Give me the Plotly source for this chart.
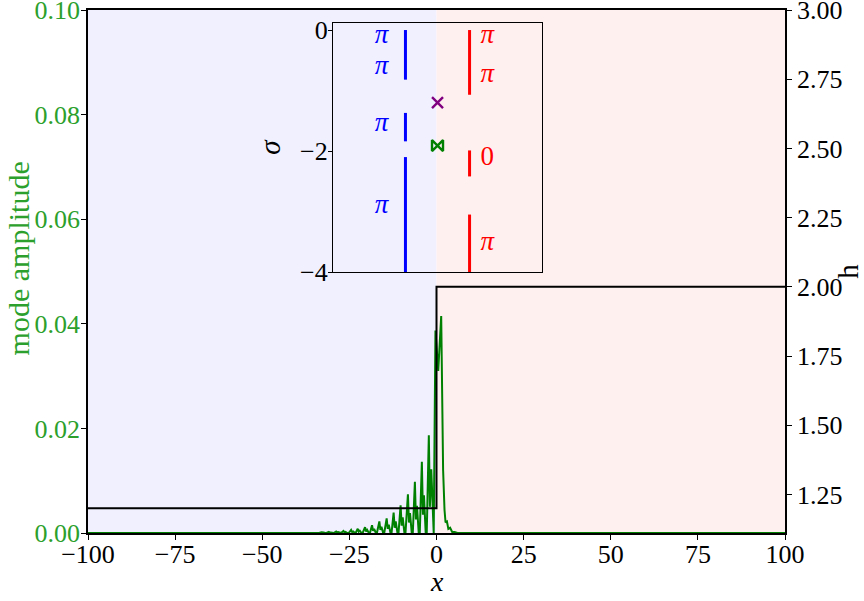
import plotly.graph_objects as go

# ---------------- data ----------------
# mode amplitude (green)
amp_x = [-100.0, -38.5,
         -37.7, -37.0, -36.7, -36.4, -35.9,
         -35.7, -35.0, -34.7, -34.4, -33.9,
         -33.7, -33.0, -32.7, -32.4, -31.9,
         -31.6, -30.9, -30.6, -30.3, -29.8,
         -29.5, -28.8, -28.5, -28.2, -27.7,
         -27.4, -26.7, -26.4, -26.1, -25.6,
         -25.2, -24.5, -24.2, -23.9, -23.4,
         -23.2, -22.6, -22.3, -22.0, -21.5,
         -21.2, -20.5, -20.2, -19.9, -19.4,
         -19.1, -18.5, -18.2, -17.9, -17.4,
         -17.1, -16.4, -16.1, -15.8, -15.3,
         -15.0, -14.3, -14.0, -13.7, -13.2,
         -12.9, -12.3, -12.0, -11.7, -11.2,
         -10.9, -10.3, -10.0, -9.7, -9.2,
         -8.9, -8.2, -7.9, -7.6, -7.1,
         -6.8, -6.2, -5.9, -5.6, -5.1,
         -4.8, -4.2, -3.9, -3.6, -3.1,
         -2.8, -2.2, -1.9, -1.5, -1.0,
         -0.8, -0.3, 0.5, 1.35, 1.9, 2.3, 2.6, 3.0, 3.4, 3.9, 4.5, 5.2, 6.0, 100.0]
amp_y = [0.0, 0.0,
         0.0, 0.0001, 0.00003, 0.00005, 0.0,
         0.0, 0.00012, 0.00004, 0.00006, 0.0,
         0.0, 0.00015, 0.00005, 0.0001, 0.0,
         0.0, 0.0002, 0.00006, 0.0001, 0.0,
         0.0, 0.0003, 0.0001, 0.00017, 0.0,
         0.0, 0.0004, 0.00012, 0.00022, 0.0,
         0.0, 0.0006, 0.00018, 0.0003, 0.0,
         0.0, 0.0008, 0.00025, 0.00045, 0.0,
         0.0, 0.0011, 0.0003, 0.0006, 0.0,
         0.0, 0.0015, 0.0004, 0.0008, 0.0,
         0.0, 0.0022, 0.0006, 0.0012, 0.0,
         0.0, 0.0028, 0.0008, 0.0016, 0.0,
         0.0, 0.0039, 0.0010, 0.0022, 0.0,
         0.0, 0.0053, 0.0014, 0.0030, 0.0,
         0.0, 0.0074, 0.0020, 0.0038, 0.0,
         0.0, 0.0098, 0.0026, 0.0052, 0.0,
         0.0, 0.0136, 0.0035, 0.0072, 0.0,
         0.0, 0.0187, 0.0050, 0.0122, 0.0,
         0.0, 0.0387, 0.0310, 0.0415, 0.0120, 0.0044, 0.0020, 0.0022, 0.0008, 0.0010, 0.0002, 0.0002, 0.0, 0.0]

# depth profile h (black step)
h_x = [-100.0, 0.0, 100.0]
h_y = [1.2, 2.0, 2.0]

# inset: spectrum bands (sigma ranges)
blue_x = -9.2
blue_bands = [(0.0, -0.82), (-1.37, -1.84), (-2.1, -4.0)]
red_x = 9.2
red_bands = [(0.0, -1.07), (-1.99, -2.42), (-3.05, -4.0)]
blue_label_x = -16.1
blue_label_y = [-0.10, -0.61, -1.56, -2.91]
blue_labels = ["π", "π", "π", "π"]
red_label_x = 14.3
red_label_y = [-0.10, -0.75, -2.12, -3.52]
red_labels = ["π", "π", "0", "π"]
cross_pt = (0.0, -1.20)
bowtie_pt = (0.0, -1.91)

x_ticks = [-100, -75, -50, -25, 0, 25, 50, 75, 100]
amp_ticks = [0.0, 0.02, 0.04, 0.06, 0.08, 0.10]
h_ticks = [1.25, 1.5, 1.75, 2.0, 2.25, 2.5, 2.75, 3.0]
sigma_ticks = [0, -2, -4]

FONT = "Liberation Serif"
GREEN_T = "#2ca02c"
TICK = dict(family=FONT, size=26, color="black")


def fmt(v, nd=0):
    s = f"{abs(v):.{nd}f}"
    return ("\u2212" + s) if v < 0 else s


fig = go.Figure()

fig.add_trace(go.Scatter(x=amp_x, y=amp_y, mode="lines",
                         line=dict(color="#008000", width=2),
                         xaxis="x", yaxis="y", showlegend=False))
fig.add_trace(go.Scatter(x=h_x, y=h_y, mode="lines", line_shape="hv",
                         line=dict(color="black", width=2),
                         xaxis="x", yaxis="y2", showlegend=False))

for (a, b) in blue_bands:
    fig.add_trace(go.Scatter(x=[blue_x, blue_x], y=[a, b], mode="lines",
                             line=dict(color="blue", width=3),
                             xaxis="x3", yaxis="y3", showlegend=False))
for (a, b) in red_bands:
    fig.add_trace(go.Scatter(x=[red_x, red_x], y=[a, b], mode="lines",
                             line=dict(color="red", width=3),
                             xaxis="x3", yaxis="y3", showlegend=False))

fig.add_trace(go.Scatter(x=[blue_label_x] * len(blue_label_y), y=blue_label_y,
                         mode="text", text=[f"<i>{t}</i>" for t in blue_labels],
                         textfont=dict(family=FONT, size=27, color="blue"),
                         xaxis="x3", yaxis="y3", showlegend=False))
fig.add_trace(go.Scatter(x=[red_label_x] * len(red_label_y), y=red_label_y,
                         mode="text",
                         text=[(f"<i>{t}</i>" if t == "π" else t) for t in red_labels],
                         textfont=dict(family=FONT, size=27, color="red"),
                         xaxis="x3", yaxis="y3", showlegend=False))
fig.add_trace(go.Scatter(x=[cross_pt[0]], y=[cross_pt[1]], mode="markers",
                         marker=dict(symbol="x-thin-open", size=11, color="purple",
                                     line=dict(color="purple", width=2.4)),
                         xaxis="x3", yaxis="y3", showlegend=False))
fig.add_trace(go.Scatter(x=[bowtie_pt[0]], y=[bowtie_pt[1]], mode="markers",
                         marker=dict(symbol="bowtie-open", size=11, color="green",
                                     line=dict(color="green", width=2.4)),
                         xaxis="x3", yaxis="y3", showlegend=False))

# background halves
fig.add_shape(type="rect", xref="x", yref="paper", x0=-100, x1=0, y0=0, y1=1,
              fillcolor="#f0f0ff", line_width=0, layer="below")
fig.add_shape(type="rect", xref="x", yref="paper", x0=0, x1=100, y0=0, y1=1,
              fillcolor="#fff0f0", line_width=0, layer="below")

# axis titles placed as annotations for exact positioning
fig.add_annotation(text="<i>x</i>", xref="paper", yref="paper", x=0.5, y=-0.092,
                   xanchor="center", yanchor="middle", showarrow=False,
                   font=dict(family=FONT, size=28, color="black"))
fig.add_annotation(text="mode amplitude", xref="paper", yref="paper",
                   x=-0.1005, y=0.525, xanchor="center", yanchor="middle",
                   textangle=-90, showarrow=False,
                   font=dict(family=FONT, size=30, color=GREEN_T))

fig.update_layout(
    width=864, height=601,
    margin=dict(l=88, r=79, t=10, b=68),
    paper_bgcolor="white", plot_bgcolor="rgba(0,0,0,0)",
    font=dict(family=FONT, size=26, color="black"),
    xaxis=dict(range=[-100, 100], domain=[0, 1], automargin=False,
               tickvals=x_ticks, ticktext=[fmt(v) for v in x_ticks],
               tickfont=TICK, ticklabeloverflow="allow", ticklabelstandoff=-8,
               ticks="outside", ticklen=5, tickwidth=1.2, tickcolor="black",
               showline=True, linecolor="black", linewidth=1.5, mirror=True,
               showgrid=False, zeroline=False),
    yaxis=dict(range=[0, 0.1], tickvals=amp_ticks, automargin=False,
               ticktext=[f"{v:.2f}" for v in amp_ticks],
               tickfont=dict(family=FONT, size=26, color=GREEN_T),
               ticklabeloverflow="allow", ticklabelstandoff=-4,
               ticks="outside", ticklen=5, tickwidth=1.2, tickcolor="black",
               showline=True, linecolor="black", linewidth=1.5,
               showgrid=False, zeroline=False),
    yaxis2=dict(range=[1.111, 3.0], overlaying="y", side="right", automargin=False,
                tickvals=h_ticks, ticktext=[f"{v:.2f}" for v in h_ticks],
                tickfont=TICK, ticklabeloverflow="allow",
                ticks="outside", ticklen=5, tickwidth=1.2, tickcolor="black",
                showline=True, linecolor="black", linewidth=1.5,
                showgrid=False, zeroline=False,
                title=dict(text="h", font=dict(family=FONT, size=29), standoff=6)),
    xaxis3=dict(domain=[0.3515, 0.6514], anchor="y3", range=[-30, 30],
                automargin=False,
                showticklabels=False, ticks="", showgrid=False, zeroline=False,
                showline=True, linecolor="black", linewidth=1.2, mirror=True),
    yaxis3=dict(domain=[0.499, 0.975], anchor="x3", range=[-4.0, 0.115],
                automargin=False,
                tickvals=sigma_ticks, ticktext=[fmt(v) for v in sigma_ticks],
                tickfont=dict(family=FONT, size=26, color="black"),
                ticklabeloverflow="allow", ticklabelstandoff=-5,
                ticks="outside", ticklen=4, tickwidth=1.2, tickcolor="black",
                showgrid=False, zeroline=False,
                showline=True, linecolor="black", linewidth=1.2, mirror=True,
                title=dict(text="<i>σ</i>", font=dict(family=FONT, size=29), standoff=10)),
)

fig.write_html("out.html", config={"displayModeBar": False},
               post_script="document.body.style.margin='0px';document.body.style.padding='0px';")
